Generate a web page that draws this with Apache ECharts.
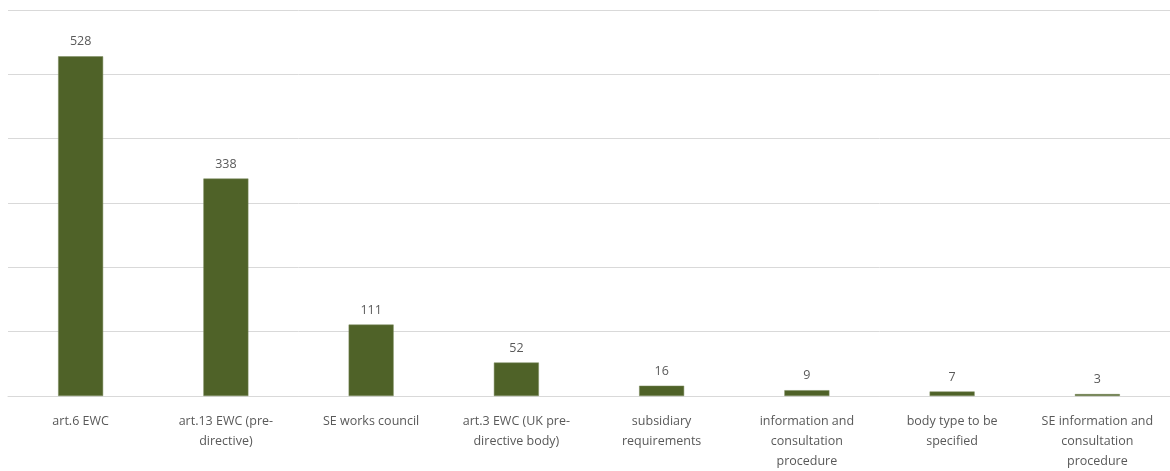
<!DOCTYPE html>
<html>
<head>
<meta charset="utf-8">
<script src="https://cdn.jsdelivr.net/npm/echarts@6/dist/echarts.min.js"></script>
<style>
  html, body { margin: 0; padding: 0; background: #ffffff; }
  #chart { width: 1170px; height: 471px; }
</style>
</head>
<body>
<div id="chart"></div>
<script>
// Body types, with line breaks where the axis labels wrap
const categories = [
  'art.6 EWC',
  'art.13 EWC (pre-\ndirective)',
  'SE works council',
  'art.3 EWC (UK pre-\ndirective body)',
  'subsidiary\nrequirements',
  'information and\nconsultation\nprocedure',
  'body type to be\nspecified',
  'SE information and\nconsultation\nprocedure'
];
const counts = [528, 338, 111, 52, 16, 9, 7, 3];

const yMin = 0;
const yMax = 600;
const yStep = 100;

const fontStack = '"Open Sans", Lato, sans-serif';

const chart = echarts.init(document.getElementById('chart'), null, { renderer: 'canvas' });
chart.setOption({
  animation: false,
  backgroundColor: '#ffffff',
  textStyle: { fontFamily: fontStack },
  grid: { left: 8, right: 0, top: 10, bottom: 72, containLabel: false },
  xAxis: {
    type: 'category',
    data: categories,
    axisLine: { show: true, lineStyle: { color: '#d9d9d9', width: 1 } },
    axisTick: { show: false },
    axisLabel: {
      interval: 0,
      margin: 15,
      color: '#595959',
      fontSize: 12.5,
      lineHeight: 20,
      fontFamily: fontStack
    }
  },
  yAxis: {
    type: 'value',
    min: yMin,
    max: yMax,
    interval: yStep,
    axisLine: { show: false },
    axisTick: { show: false },
    axisLabel: { show: false },
    splitLine: { show: true, lineStyle: { color: '#d9d9d9', width: 1 } }
  },
  series: [{
    type: 'bar',
    data: counts,
    barWidth: 45,
    itemStyle: { color: '#4f6228', borderColor: '#7a8a5c', borderWidth: 0.5 },
    label: {
      show: true,
      position: 'top',
      distance: 8,
      color: '#595959',
      fontSize: 12.5,
      fontFamily: fontStack
    }
  }]
});
</script>
</body>
</html>
